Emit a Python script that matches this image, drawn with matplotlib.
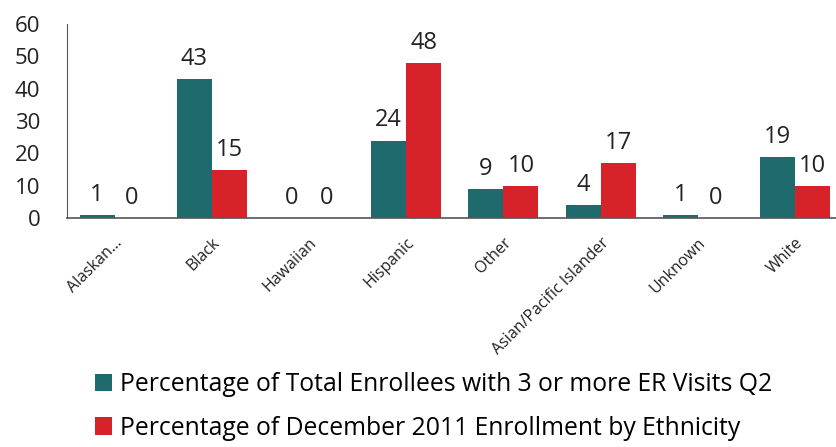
import matplotlib
matplotlib.use("Agg")
import matplotlib.pyplot as plt
import numpy as np

categories = ["Alaskan...", "Black", "Hawaiian", "Hispanic", "Other",
              "Asian/Pacific Islander", "Unknown", "White"]
er_visits = [1, 43, 0, 24, 9, 4, 1, 19]
enrollment = [0, 15, 0, 48, 10, 17, 0, 10]
yticks = [0, 10, 20, 30, 40, 50, 60]

teal = "#1f6a6c"
red = "#d8222a"

plt.rcParams["font.family"] = ["Open Sans", "DejaVu Sans"]

fig = plt.figure(figsize=(8.36, 4.47), dpi=100)
ax = fig.add_axes([0.080, 0.512, 0.92, 0.434])

x = np.arange(len(categories))
w = 0.36
b1 = ax.bar(x - w / 2, er_visits, w, color=teal, label="Percentage of Total Enrollees with 3 or more ER Visits Q2")
b2 = ax.bar(x + w / 2, enrollment, w, color=red, label="Percentage of December 2011 Enrollment by Ethnicity")

for bars, vals in ((b1, er_visits), (b2, enrollment)):
    for bar, v in zip(bars, vals):
        ax.text(bar.get_x() + bar.get_width() / 2, v + 2.5, str(v),
                ha="center", va="bottom", fontsize=17, color="#222222")

ax.set_xlim(-0.49, 7.42)
ax.set_ylim(0, 60)
ax.set_yticks(yticks)
ax.set_yticklabels([str(t) for t in yticks], fontsize=16, color="#222222")
ax.set_xticks(x)
ax.set_xticklabels(categories, rotation=45, ha="right", va="top",
                   rotation_mode="anchor", fontsize=11.5, color="#222222")
ax.tick_params(axis="both", length=0)
ax.tick_params(axis="y", pad=19)
ax.tick_params(axis="x", pad=12)
ax.spines["top"].set_visible(False)
ax.spines["right"].set_visible(False)
ax.spines["left"].set_color("#555555")
ax.spines["bottom"].set_color("#555555")
ax.spines["left"].set_linewidth(0.8)
ax.spines["bottom"].set_linewidth(1.2)

fig.legend(handles=[b1, b2], loc="upper left", bbox_to_anchor=(0.102, 0.19),
           frameon=False, fontsize=17.8, handlelength=0.7, handleheight=0.7,
           handletextpad=0.3, labelspacing=0.75, borderaxespad=0)

fig.savefig("out.png", dpi=100)
